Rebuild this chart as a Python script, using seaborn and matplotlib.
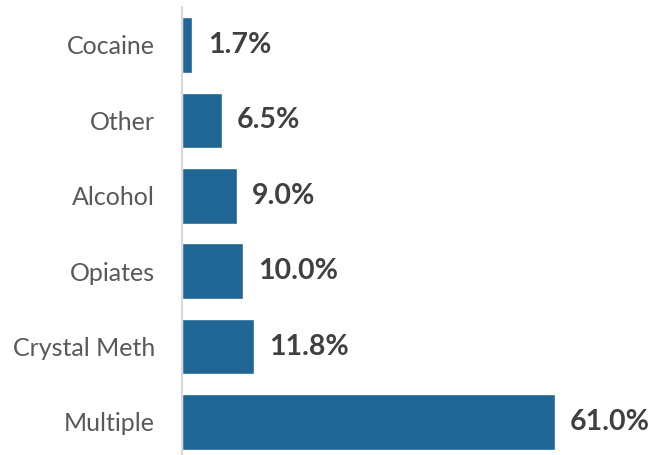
import seaborn as sns
import matplotlib.pyplot as plt
import pandas as pd

categories = ['Cocaine', 'Other', 'Alcohol', 'Opiates', 'Crystal Meth', 'Multiple']
values = [1.7, 6.5, 9.0, 10.0, 11.8, 61.0]

df = pd.DataFrame({'substance': categories, 'pct': values})

sns.set_style('white')
plt.rcParams['font.family'] = ['Lato', 'DejaVu Sans']

fig = plt.figure(figsize=(6.54, 4.55), dpi=100)
ax = fig.add_axes([182 / 654, 0.0, 458 / 654, (455 - 7.3) / 455])

sns.barplot(data=df, x='pct', y='substance', color='#1F6694', saturation=1,
            width=0.74, ax=ax)

# value labels
for i, v in enumerate(values):
    ax.text(v + 2.5, i, f'{v:.1f}%', va='center', ha='left',
            fontsize=20.5, fontweight='bold', color='#404040')

ax.set_xlim(0, 75)
ax.set_ylim(5 + 33 / 75.4, -0.5)
ax.set_xlabel('')
ax.set_ylabel('')
ax.set_xticks([])
ax.tick_params(axis='y', length=0, pad=19.5, labelsize=18, labelcolor='#595959')
for s in ['top', 'right', 'bottom']:
    ax.spines[s].set_visible(False)
ax.spines['left'].set_color('#D9D9D9')
ax.spines['left'].set_linewidth(1.5)

fig.savefig('out.png', dpi=100)
